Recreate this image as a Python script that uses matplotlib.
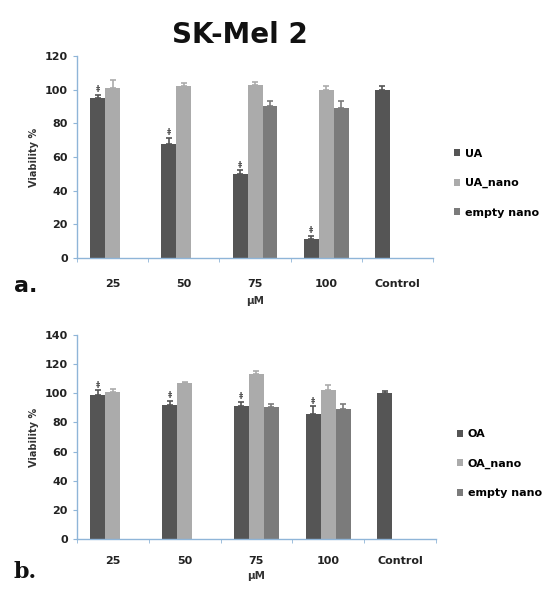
import numpy as np
import matplotlib.pyplot as plt

categories = ['25', '50', '75', '100', 'Control']

# panel a (UA)
ua = [95, 67.5, 50, 11, 100]
ua_err = [2, 4, 2, 2, 2]
ua_nano = [101, 102, 103, 99.5, np.nan]
ua_nano_err = [5, 2, 1.5, 2.5, 0]
empty_a = [np.nan, np.nan, 90, 89, np.nan]
empty_a_err = [0, 0, 3, 4, 0]

# panel b (OA)
oa = [99, 92, 91, 86, 100]
oa_err = [3, 3, 3, 5, 1.5]
oa_nano = [101, 107, 113.5, 102.5, np.nan]
oa_nano_err = [2, 1, 2, 3, 0]
empty_b = [np.nan, np.nan, 90.5, 89.5, np.nan]
empty_b_err = [0, 0, 2, 3, 0]

dark = '#555555'
light = '#ababab'
mid = '#7b7b7b'
axis_col = '#8fb5d8'

fig = plt.figure(figsize=(5.52, 5.89), dpi=100)
ax_a = fig.add_axes([0.1395, 0.562, 0.645, 0.343])
ax_b = fig.add_axes([0.1395, 0.085, 0.650, 0.346])

x = np.arange(len(categories))
w = 0.21


def panel(ax, series, errs, labels, ymax, step, pad, lpad):
    cols = [dark, light, mid]
    for k, (vals, e, lab, c) in enumerate(zip(series, errs, labels, cols)):
        pos = x + (k - 1) * w
        ax.bar(pos, vals, w, color=c, label=lab)
        v = np.array(vals, dtype=float)
        ok = ~np.isnan(v)
        ax.errorbar(pos[ok], v[ok], yerr=[np.zeros(ok.sum()), np.array(e)[ok]],
                    fmt='none', ecolor=c, elinewidth=1.2, capsize=2.5, capthick=1.2)
    # significance marks over the free acid bars
    for i in range(4):
        top = series[0][i] + errs[0][i]
        ax.text(x[i] - w, top + 0.5, '‡', ha='center', va='bottom',
                fontsize=6, color=dark, fontweight='bold')
    ax.set_xlim(-0.5, 4.5)
    ax.set_ylim(0, ymax)
    ax.set_yticks(np.arange(0, ymax + 1, step))
    ax.set_xticks(x)
    ax.set_xticklabels(categories)
    ax.set_xticks(np.arange(-0.5, 4.6, 1), minor=True)
    ax.tick_params(axis='x', which='major', length=0, pad=pad)
    ax.tick_params(axis='x', which='minor', length=3, color=axis_col)
    ax.tick_params(axis='y', length=3, color=axis_col)
    for lbl in ax.get_xticklabels() + ax.get_yticklabels():
        lbl.set_fontsize(8)
        lbl.set_fontweight('bold')
        lbl.set_color('#222222')
    for s in ['top', 'right']:
        ax.spines[s].set_visible(False)
    for s in ['left', 'bottom']:
        ax.spines[s].set_color(axis_col)
        ax.spines[s].set_linewidth(1.0)
    ax.set_ylabel('Viability %', fontsize=7, fontweight='bold', color='#333333')
    ax.set_xlabel('μM', fontsize=7.5, fontweight='bold', color='#333333', labelpad=lpad)
    ax.legend(loc='center left', bbox_to_anchor=(1.03, 0.37), frameon=False,
              handlelength=0.6, handleheight=0.6, handletextpad=0.4,
              labelspacing=1.75, prop={'size': 8, 'weight': 'bold'})


panel(ax_a, [ua, ua_nano, empty_a], [ua_err, ua_nano_err, empty_a_err],
      ['UA', 'UA_nano', 'empty nano'], 120, 20, 15, 5)
panel(ax_b, [oa, oa_nano, empty_b], [oa_err, oa_nano_err, empty_b_err],
      ['OA', 'OA_nano', 'empty nano'], 140, 20, 12, 4)

fig.text(0.435, 0.94, 'SK-Mel 2', ha='center', va='center',
         fontsize=20, fontweight='bold', color='#111111')
fig.text(0.025, 0.505, 'a.', fontsize=16, fontweight='bold', color='#111111')
fig.text(0.025, 0.018, 'b.', fontsize=16, fontweight='bold', color='#111111',
         family='DejaVu Serif')

fig.savefig('out.png', dpi=100)
